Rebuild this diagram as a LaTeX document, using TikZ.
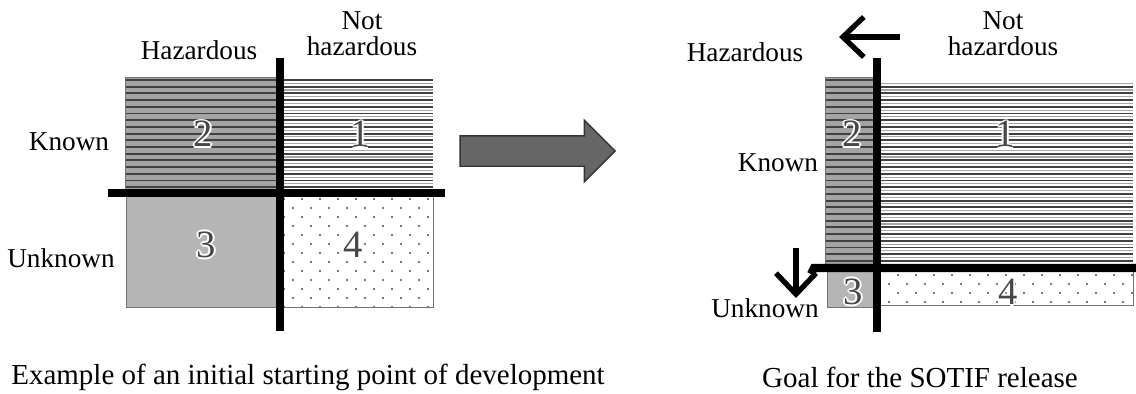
\documentclass[tikz,border=0pt]{standalone}
\usepackage{fontspec}
\setmainfont{Liberation Serif}
\usetikzlibrary{arrows.meta,shapes.arrows}
\definecolor{hazgray}{HTML}{A3A3A3}
\definecolor{unkgray}{HTML}{B5B5B5}
\definecolor{arrowgray}{HTML}{666666}
\newcommand\halonum[4]{% name, x, y, digit
  \foreach \a in {0,45,...,315}
    \node[num,text=white] at ([shift={(\a:1pt)}]#2,#3) {#4};
  \node[num] (#1) at (#2,#3) {#4};}
\begin{document}
\begin{tikzpicture}[x=0.02cm,y=-0.02cm]
\tikzset{every node/.style={font=\fontsize{15.5}{17}\selectfont},
  num/.style={font=\fontsize{22}{22}\selectfont,text=black!72},
  caption/.style={font=\fontsize{16.5}{18}\selectfont,inner sep=1pt},
  axis/.style={line width=4.6pt,black},
  box/.style={draw=black!55,line width=0.5pt},
  darkline/.style={draw=black!75,line width=1.1pt},
  lightline/.style={draw=black!35,line width=0.6pt},
  turn/.style={line width=3pt,-{Straight Barb[length=0.42cm,width=0.8cm,line width=3pt]}}}
\useasboundingbox (0,0) rectangle (1136,393);

% left: initial starting point
\fill[hazgray] (125,77) rectangle (280,193);
\foreach \y in {80,86.7,...,190} \draw[darkline] (125,\y) -- (280,\y);
\foreach \y in {83.3,90,...,190} \draw[lightline] (125,\y) -- (280,\y);
\draw[box] (125,193) -- (125,77) -- (280,77);
\foreach \y in {80,86.7,...,190} \draw[darkline] (280,\y) -- (433,\y);
\foreach \y in {83.3,90,...,190} \draw[lightline] (280,\y) -- (433,\y);
\fill[unkgray] (126,193) rectangle (280,307);
\draw[box] (126,193) -- (126,307) -- (280,307);
\begin{scope}
\clip (280,193) rectangle (433,307);
\foreach \x in {284,302,...,440} \foreach \y in {199,217,...,310}
  {\fill[black!70] (\x,\y) circle (0.6pt); \fill[black!70] (\x+9,\y+9) circle (0.6pt);}
\end{scope}
\draw[box] (280,307) -- (433,307) -- (433,193);
\draw[axis] (108,193) -- (445,193);
\draw[axis] (280,58) -- (280,331);
\halonum{l2}{203}{134}{2}
\halonum{l1}{360}{134}{1}
\halonum{l3}{206}{245}{3}
\halonum{l4}{353}{245}{4}
\node (lhaz) at (199,50) {Hazardous};
\node[align=center] (lnot) at (362,34) {Not\\[-2pt]hazardous};
\node (lknown) at (69,142) {Known};
\node (lunknown) at (61,258) {Unknown};
\node[caption] (lcap) at (308,377) {Example of an initial starting point of development};

% transition arrow
\node[single arrow,draw=black!80,fill=arrowgray,line width=0.8pt,
  minimum height=3.1cm,single arrow head extend=0.31cm,
  inner sep=0pt] (step) at (530,151) {\rule{0pt}{0.58cm}};

% right: goal for the SOTIF release
\fill[hazgray] (825,77) rectangle (877,268);
\foreach \y in {80,86.7,...,266} \draw[darkline] (825,\y) -- (877,\y);
\foreach \y in {83.3,90,...,266} \draw[lightline] (825,\y) -- (877,\y);
\draw[box] (825,268) -- (825,77) -- (877,77);
\foreach \y in {86.7,93.4,...,266} \draw[darkline] (877,\y) -- (1133,\y);
\foreach \y in {83.3,90,...,266} \draw[lightline] (877,\y) -- (1133,\y);
\fill[unkgray] (827,268) rectangle (877,307);
\draw[box] (827,268) -- (827,307) -- (877,307);
\begin{scope}
\clip (877,268) rectangle (1133,305);
\foreach \x in {880,898,...,1140} \foreach \y in {275,293}
  {\fill[black!70] (\x,\y) circle (0.6pt); \fill[black!70] (\x+9,\y+9) circle (0.6pt);}
\end{scope}
\draw[box] (877,305) -- (1133,305) -- (1133,268);
\draw[axis] (811,274) -- (814,268) -- (1136,268);
\draw[axis] (877,58) -- (877,332);
\halonum{r2}{852}{134}{2}
\halonum{r1}{1005}{134}{1}
\halonum{r3}{853}{292}{3}
\halonum{r4}{1008}{292}{4}
\node (rhaz) at (745,52) {Hazardous};
\node[align=center] (rnot) at (1003,34) {Not\\[-2pt]hazardous};
\node (rknown) at (778,163) {Known};
\node (runknown) at (765,308) {Unknown};
\node[caption] (rcap) at (920,377) {Goal for the SOTIF release};
\coordinate (lshift) at (900,37);
\coordinate (lshiftend) at (839,37);
\coordinate (dshift) at (796,248);
\coordinate (dshiftend) at (796,298);
\draw[turn] (lshift) -- (lshiftend);
\draw[turn] (dshift) -- (dshiftend);
\end{tikzpicture}
\end{document}
